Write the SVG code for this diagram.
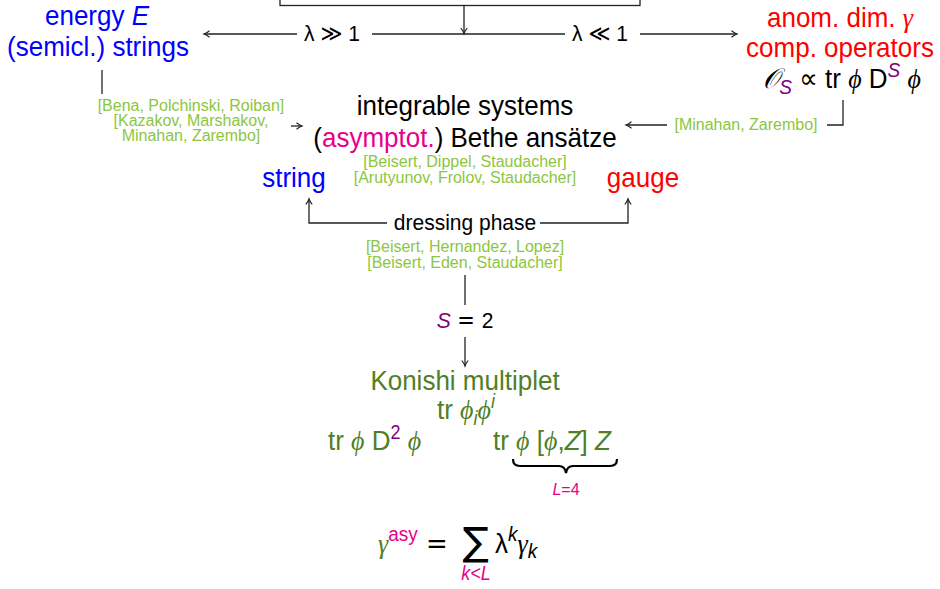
<svg xmlns="http://www.w3.org/2000/svg" width="940" height="589" viewBox="0 0 940 589">
<defs>
<marker id="ah" markerUnits="userSpaceOnUse" markerWidth="12" markerHeight="12" viewBox="-6 -6 12 12" refX="0" refY="0" orient="auto" overflow="visible">
<path d="M-5.5,-3.2 C-3.5,-1.6 -1.5,-0.5 0,0 C-1.5,0.5 -3.5,1.6 -5.5,3.2" fill="none" stroke="#222" stroke-width="1.2"/>
</marker>
</defs>
<style>
text{font-family:"Liberation Sans",Arial,sans-serif}
.big{font-size:26px}
.mid{font-size:21px}
.cite{font-size:16px;fill:#8cc63f}
.blue{fill:#0000ff}
.red{fill:#ff0000}
.pink{fill:#e8008a}
.purple{fill:#800080}
.dg{fill:#4f7f26}
.mi{font-family:"Liberation Serif","DejaVu Serif",serif;font-style:italic}
.ds{font-family:"DejaVu Sans",sans-serif}
.it{font-style:italic}
.c{text-anchor:middle}
.ln{fill:none;stroke:#222;stroke-width:1.3}
.arr{marker-end:url(#ah)}
</style>
<rect width="940" height="589" fill="#ffffff"/>
<g id="topbox"><rect x="280" y="-30" width="360" height="35.5" class="ln"/></g>
<g id="connectors">
<path class="ln arr" d="M464,5.5 V33.5"/>
<path class="ln arr" d="M297,34 H204"/>
<path class="ln" d="M372,34 H565"/>
<path class="ln arr" d="M640,34 H737"/>
<path class="ln" d="M102,70 V94"/>
<path class="ln arr" d="M291,126 H302"/>
<path class="ln" d="M843,100 V125 H827"/>
<path class="ln arr" d="M667,125 H626"/>
<path class="ln arr" d="M387,223 H309 V199"/>
<path class="ln arr" d="M540,223 H628 V199"/>
<path class="ln" d="M465,275 V305"/>
<path class="ln arr" d="M465,337 V366"/>
</g>
<g id="lambda-large"><text x="332" y="41" class="mid c" transform="matrix(1 0 0 1.08 0 -3.28)">λ <tspan class="ds">≫</tspan> 1</text></g>
<g id="lambda-small"><text x="600" y="41" class="mid c" transform="matrix(1 0 0 1.08 0 -3.28)">λ <tspan class="ds">≪</tspan> 1</text></g>
<g id="string-energy">
<text x="97" y="25" class="big blue c" transform="matrix(1 0 0 1.08 0 -2)">energy <tspan class="it">E</tspan></text>
<text x="98" y="56" class="big blue c" transform="matrix(1 0 0 1.08 0 -4.48)">(semicl.) strings</text>
</g>
<g id="gauge-anomdim">
<text x="840" y="27" class="big red c" transform="matrix(1 0 0 1.08 0 -2.16)">anom. dim. <tspan class="mi">γ</tspan></text>
<text x="840" y="57" class="big red c" transform="matrix(1 0 0 1.08 0 -4.56)">comp. operators</text>
<text x="842" y="88" class="big c" transform="matrix(1 0 0 1.08 0 -7.04)"><tspan class="mi">𝒪</tspan><tspan class="purple it" font-size="19" dy="6">S</tspan><tspan dy="-6"> </tspan><tspan class="ds">∝</tspan><tspan> tr </tspan><tspan class="mi">ϕ</tspan><tspan> D</tspan><tspan class="purple it" font-size="19" dy="-10">S</tspan><tspan dy="10"> </tspan><tspan class="mi">ϕ</tspan></text>
</g>
<g id="cite-left">
<text x="191" y="111" class="cite c" transform="matrix(1 0 0 1.08 0 -8.88)">[Bena, Polchinski, Roiban]</text>
<text x="191" y="126" class="cite c" transform="matrix(1 0 0 1.08 0 -10.08)">[Kazakov, Marshakov,</text>
<text x="191" y="141" class="cite c" transform="matrix(1 0 0 1.08 0 -11.28)">Minahan, Zarembo]</text>
</g>
<g id="cite-right"><text x="746" y="130" class="cite c" transform="matrix(1 0 0 1.08 0 -10.4)">[Minahan, Zarembo]</text></g>
<g id="integrable">
<text x="465" y="115" class="big c" transform="matrix(1 0 0 1.08 0 -9.2)">integrable systems</text>
<text x="465" y="147" class="big c" transform="matrix(1 0 0 1.08 0 -11.76)">(<tspan class="pink">asymptot.</tspan>) Bethe ansätze</text>
<text x="465" y="167" class="cite c" transform="matrix(1 0 0 1.08 0 -13.36)">[Beisert, Dippel, Staudacher]</text>
<text x="465" y="183" class="cite c" transform="matrix(1 0 0 1.08 0 -14.64)">[Arutyunov, Frolov, Staudacher]</text>
</g>
<g id="string"><text x="294" y="187" class="big blue c" transform="matrix(1 0 0 1.08 0 -14.96)">string</text></g>
<g id="gauge"><text x="643" y="187" class="big red c" transform="matrix(1 0 0 1.08 0 -14.96)">gauge</text></g>
<g id="dressing">
<text x="465" y="230" class="mid c" transform="matrix(1 0 0 1.08 0 -18.4)">dressing phase</text>
<text x="465" y="252" class="cite c" transform="matrix(1 0 0 1.08 0 -20.16)">[Beisert, Hernandez, Lopez]</text>
<text x="465" y="268" class="cite c" transform="matrix(1 0 0 1.08 0 -21.44)">[Beisert, Eden, Staudacher]</text>
</g>
<g id="s2"><text x="465" y="328" class="mid c" transform="matrix(1 0 0 1.08 0 -26.24)"><tspan class="purple it">S</tspan><tspan class="ds"> = </tspan>2</text></g>
<g id="konishi">
<text x="465" y="390" class="big dg c" transform="matrix(1 0 0 1.08 0 -31.2)">Konishi multiplet</text>
<text x="466" y="419" class="big dg c" transform="matrix(1 0 0 1.08 0 -33.52)">tr <tspan class="mi">ϕ</tspan><tspan class="it" font-size="18" dy="6">i</tspan><tspan class="mi" dy="-6">ϕ</tspan><tspan class="it" font-size="18" dy="-10">i</tspan></text>
<text x="328" y="450" class="big dg" transform="matrix(1 0 0 1.08 0 -36)">tr <tspan class="mi">ϕ</tspan> D<tspan class="purple" font-size="18" dy="-10">2</tspan><tspan dy="10"> </tspan><tspan class="mi">ϕ</tspan></text>
<text x="493" y="450" class="big dg" transform="matrix(1 0 0 1.08 0 -36)">tr <tspan class="mi">ϕ</tspan> [<tspan class="mi">ϕ</tspan>,<tspan class="it">Z</tspan>] <tspan class="it">Z</tspan></text>
<path d="M513,459 Q513,466 520,466 L559,466 Q565,466 566,473 Q567,466 573,466 L610,466 Q617,466 617,459" fill="none" stroke="#000" stroke-width="2.2"/>
<text x="566" y="495" class="pink c" font-size="16" transform="matrix(1 0 0 1.08 0 -39.6)"><tspan class="it">L</tspan>=4</text>
</g>
<g id="gamma-asy">
<text x="378" y="553" class="big" transform="matrix(1 0 0 1.08 0 -44.24)"><tspan class="mi dg">γ</tspan><tspan class="pink" font-size="19" dy="-11">asy</tspan><tspan dy="11" class="ds"> = </tspan></text>
<text x="476" y="555" class="c ds" font-size="39">∑</text>
<text x="495" y="553" class="big" transform="matrix(1 0 0 1.08 0 -44.24)">λ<tspan class="it" font-size="19" dy="-11">k</tspan><tspan dy="11" class="mi">γ</tspan><tspan class="it" font-size="19" dy="5">k</tspan></text>
<text x="476" y="580" class="pink c it" font-size="18" transform="matrix(1 0 0 1.08 0 -46.4)">k&lt;L</text>
</g>
</svg>
